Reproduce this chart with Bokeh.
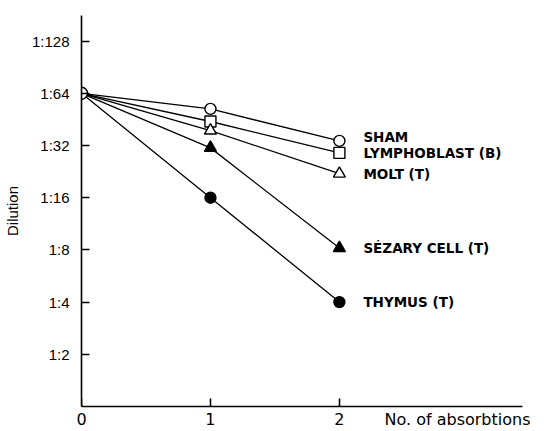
from bokeh.plotting import figure
from bokeh.models import Range1d, FixedTicker, LinearAxis, ColumnDataSource
from bokeh.core.properties import value
from bokeh.embed import file_html
from bokeh.resources import INLINE

# ---- data (reciprocal dilution titre vs. number of absorptions) ----
absorptions = [0, 1, 2]
series_names = ["SHAM", "LYMPHOBLAST (B)", "MOLT (T)", "SÉZARY CELL (T)", "THYMUS (T)"]
sham = [64, 52, 34]
lymphoblast = [64, 44, 29]
molt = [64, 39, 22]
sezary = [64, 31, 8.2]
thymus = [64, 16, 4]
y_ticks = [2, 4, 8, 16, 32, 64, 128]
y_tick_labels = ["1:2", "1:4", "1:8", "1:16", "1:32", "1:64", "1:128"]
x_ticks = [0, 1, 2]
x_title = "No. of absorbtions"
x_title_pos = 2.93

series = [sham, lymphoblast, molt, sezary, thymus]
markers = ["circle", "square", "triangle", "triangle", "circle"]
fills = ["white", "white", "white", "black", "black"]
label_dy = [-4, 0, 0, 0, 0]

p = figure(width=530, height=431, y_axis_type="log",
           x_range=Range1d(0, 3.42), y_range=Range1d(1, 2 ** 7.49),
           output_backend="svg", toolbar_location=None,
           min_border_left=73, min_border_top=15, min_border_right=8,
           min_border_bottom=5)
p.outline_line_color = None
p.xgrid.visible = False
p.ygrid.visible = False
p.background_fill_color = "white"
p.border_fill_color = "white"

font = "Liberation Sans"

p.yaxis.ticker = FixedTicker(ticks=y_ticks)
p.yaxis.major_label_overrides = {t: l for t, l in zip(y_ticks, y_tick_labels)}
p.xaxis.ticker = FixedTicker(ticks=x_ticks + [x_title_pos])
p.xaxis.major_label_overrides = {x_title_pos: x_title}
for ax in (p.xaxis, p.yaxis):
    ax.axis_line_width = 1.6
    ax.axis_line_color = "black"
    ax.major_tick_line_width = 1.6
    ax.minor_tick_in = 0
    ax.minor_tick_out = 0
    ax.major_label_text_color = "black"
p.yaxis.major_label_text_font = font
p.yaxis.major_label_text_font_size = "15px"
p.xaxis.major_label_text_font = "DejaVu Sans"
p.xaxis.major_label_text_font_size = "16px"
p.yaxis.major_tick_in = 8
p.yaxis.major_tick_out = 0
p.xaxis.major_tick_in = 0
p.xaxis.major_tick_out = 0
p.yaxis.major_label_standoff = 12
p.xaxis.major_label_standoff = 3
p.yaxis.axis_label = "Dilution"
p.yaxis.axis_label_text_font = font
p.yaxis.axis_label_text_font_style = "normal"
p.yaxis.axis_label_text_font_size = "15px"
p.yaxis.axis_label_text_color = "black"
p.yaxis.axis_label_standoff = 8

# tick marks at the absorption counts, drawn upward from the bottom of the frame
tick_axis = LinearAxis(ticker=FixedTicker(ticks=x_ticks), fixed_location=1,
                       axis_line_color=None, major_tick_in=0, major_tick_out=8,
                       major_tick_line_width=1.6, major_tick_line_color="black",
                       minor_tick_in=0, minor_tick_out=0,
                       major_label_overrides={t: "" for t in x_ticks},
                       major_label_standoff=0)
p.add_layout(tick_axis, "above")

for vals, m, f, name, dy in zip(series, markers, fills, series_names, label_dy):
    src = ColumnDataSource(dict(x=absorptions, y=vals))
    p.line("x", "y", source=src, line_color="black", line_width=1.3)
    src2 = ColumnDataSource(dict(x=absorptions[1:], y=vals[1:]))
    p.scatter("x", "y", source=src2, marker=m, size=11 if m != "triangle" else 12,
              fill_color=f, line_color="black", line_width=1.4)
    p.text(x=[absorptions[-1]], y=[vals[-1]], text=[name], x_offset=24, y_offset=dy,
           text_font=value("DejaVu Sans"), text_font_style="bold",
           text_font_size="13.5px", text_baseline="middle", text_color="black")

# common starting point
p.scatter([absorptions[0]], [sham[0]], marker="circle", size=12,
          fill_color="white", line_color="black", line_width=1.4)

open("out.html", "w").write(file_html(p, INLINE))
